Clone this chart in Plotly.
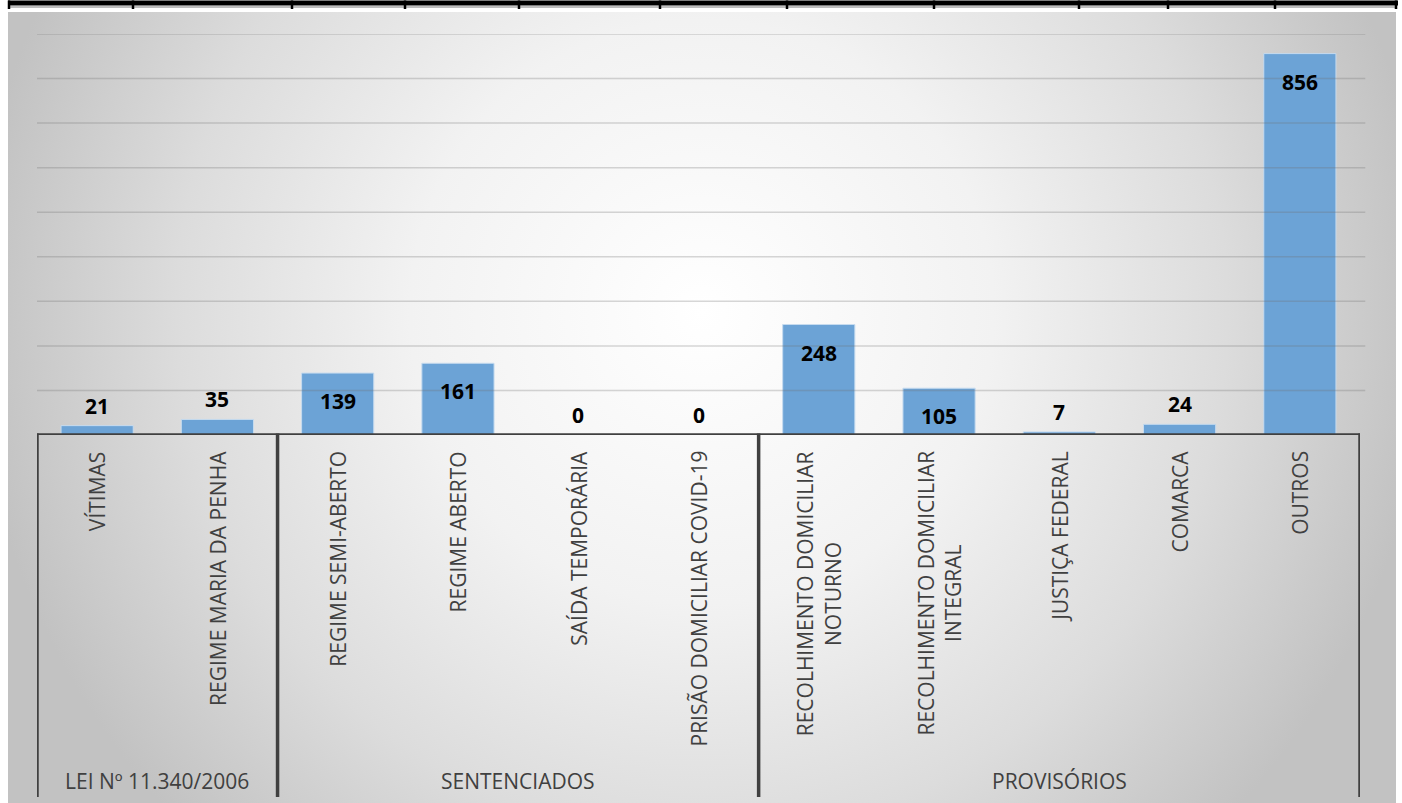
import base64
import plotly.graph_objects as go

# ---------------- data ----------------
groups = ["LEI Nº 11.340/2006", "SENTENCIADOS", "PROVISÓRIOS"]
group_sizes = [2, 4, 5]
categories = [
    "VÍTIMAS",
    "REGIME MARIA DA PENHA",
    "REGIME SEMI-ABERTO",
    "REGIME ABERTO",
    "SAÍDA TEMPORÁRIA",
    "PRISÃO DOMICILIAR COVID-19",
    "RECOLHIMENTO DOMICILIAR NOTURNO",
    "RECOLHIMENTO DOMICILIAR INTEGRAL",
    "JUSTIÇA FEDERAL",
    "COMARCA",
    "OUTROS",
]
tick_labels = [
    "VÍTIMAS",
    "REGIME MARIA DA PENHA",
    "REGIME SEMI-ABERTO",
    "REGIME ABERTO",
    "SAÍDA TEMPORÁRIA",
    "PRISÃO DOMICILIAR COVID-19",
    "RECOLHIMENTO DOMICILIAR<br>NOTURNO",
    "RECOLHIMENTO DOMICILIAR<br>INTEGRAL",
    "JUSTIÇA FEDERAL",
    "COMARCA",
    "OUTROS",
]
values = [21, 35, 139, 161, 0, 0, 248, 105, 7, 24, 856]
grid_values = [100, 200, 300, 400, 500, 600, 700, 800, 900]
y_max = 900

# ---------------- layout geometry (pixels) ----------------
W, H = 1402, 803
ML, MR, MT, MB = 37, 42, 34, 368
PW = W - ML - MR
PH = H - MT - MB


def px(xp):
    return (xp - ML) / PW


def py(yp):
    return (H - MB - yp) / PH


FONT = "Open Sans"
TXT = "#404040"

# radial gradient background as an SVG image
bg_w, bg_h = 1388, 791
svg = (
    f'<svg xmlns="http://www.w3.org/2000/svg" width="{bg_w}" height="{bg_h}" '
    f'viewBox="0 0 {bg_w} {bg_h}" preserveAspectRatio="none">'
    '<defs><radialGradient id="g" gradientUnits="userSpaceOnUse" cx="694" cy="300" r="730">'
    '<stop offset="0" stop-color="#ffffff"/>'
    '<stop offset="0.40" stop-color="#f2f2f2"/>'
    '<stop offset="0.72" stop-color="#dcdcdc"/>'
    '<stop offset="1" stop-color="#c2c2c2"/>'
    '</radialGradient></defs>'
    f'<rect x="0" y="0" width="{bg_w}" height="{bg_h}" fill="url(#g)"/></svg>'
)
svg_uri = "data:image/svg+xml;base64," + base64.b64encode(svg.encode("utf-8")).decode("ascii")

fig = go.Figure()
fig.add_trace(
    go.Bar(
        x=categories,
        y=values,
        marker=dict(color="#6ca3d6", line=dict(color="#c6dbef", width=1)),
        width=0.6,
        hoverinfo="x+y",
    )
)

shapes = []
# gridlines above bars
for gv in grid_values:
    shapes.append(dict(type="line", xref="paper", yref="y", x0=0, x1=1.004, y0=gv, y1=gv,
                       line=dict(color="rgba(110,110,110,0.28)", width=1.5), layer="above"))
# axis baseline
shapes.append(dict(type="line", xref="x", yref="y", x0=-0.5, x1=len(categories) - 0.5 + 0.02,
                   y0=0, y1=0, line=dict(color=TXT, width=3.5), layer="above"))
# group dividers
bounds = [-0.5]
for s in group_sizes:
    bounds.append(bounds[-1] + s)
for b in bounds:
    shapes.append(dict(type="line", xref="x", yref="paper", x0=b, x1=b, y0=0.004, y1=py(797),
                       line=dict(color=TXT, width=3.5), layer="above"))

# decorative top border (table frame)
shapes.append(dict(type="rect", xref="paper", yref="paper", x0=px(8), x1=px(1398), y0=py(5.5), y1=py(0.5),
                   fillcolor="black", line=dict(width=0), layer="above"))
shapes.append(dict(type="line", xref="paper", yref="paper", x0=px(8), x1=px(1396), y0=py(7), y1=py(7),
                   line=dict(color="#a9a9a9", width=1.5), layer="above"))
top_ticks = [9, 133, 292, 405, 519, 660, 787, 934, 1079, 1168, 1275, 1396]
for t in top_ticks:
    shapes.append(dict(type="line", xref="paper", yref="paper", x0=px(t), x1=px(t), y0=py(0.5), y1=py(9),
                       line=dict(color="black", width=2.5), layer="above"))

annotations = []
# data labels
for c, v in zip(categories, values):
    inside = v >= 100
    annotations.append(dict(
        x=c, y=v, xref="x", yref="y", text=f"<b>{v}</b>", showarrow=False,
        yanchor="top" if inside else "bottom", xanchor="center",
        yshift=-12 if inside else 4,
        font=dict(family=FONT, size=21, color="black"),
    ))
# category labels (rotated)
for c, lab in zip(categories, tick_labels):
    annotations.append(dict(
        x=c, y=py(449), xref="x", yref="paper", text=lab, showarrow=False,
        textangle=-90, yanchor="top", xanchor="center", align="center",
        font=dict(family=FONT, size=21, color=TXT),
    ))
# group labels
start = 0
for g, s in zip(groups, group_sizes):
    mid = start + (s - 1) / 2
    annotations.append(dict(
        x=mid, y=py(781), xref="x", yref="paper", text=g, showarrow=False,
        yanchor="middle", xanchor="center",
        font=dict(family=FONT, size=21, color=TXT),
    ))
    start += s

fig.update_layout(
    width=W, height=H,
    margin=dict(l=ML, r=MR, t=MT, b=MB, pad=0),
    paper_bgcolor="white",
    plot_bgcolor="rgba(0,0,0,0)",
    showlegend=False,
    bargap=0.4,
    xaxis=dict(range=[-0.5, len(categories) - 0.5], showticklabels=False, showgrid=False,
               zeroline=False, showline=False, ticks="", fixedrange=True),
    yaxis=dict(range=[0, y_max], showticklabels=False, showgrid=False, zeroline=False,
               showline=False, ticks="", fixedrange=True),
    images=[dict(source=svg_uri, xref="paper", yref="paper", x=px(8), y=py(12),
                 sizex=bg_w / PW, sizey=bg_h / PH, xanchor="left", yanchor="top",
                 sizing="stretch", layer="below")],
    shapes=shapes,
    annotations=annotations,
)

fig.write_html(
    "out.html",
    config={"displayModeBar": False},
    post_script="document.body.style.margin='0';document.body.style.overflow='hidden';",
)
